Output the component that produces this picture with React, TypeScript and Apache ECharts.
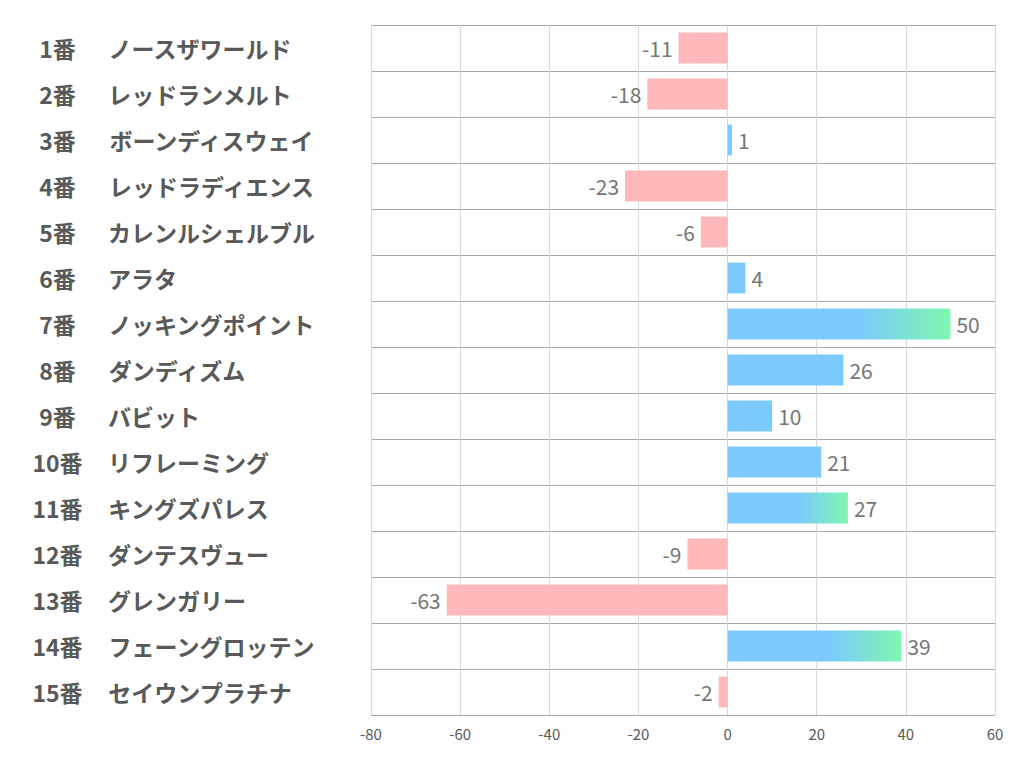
import React, { useEffect, useRef } from "react";
import * as echarts from "echarts";

const numbers = ["1番", "2番", "3番", "4番", "5番", "6番", "7番", "8番", "9番", "10番", "11番", "12番", "13番", "14番", "15番"];
const horses = [
  "ノースザワールド",
  "レッドランメルト",
  "ボーンディスウェイ",
  "レッドラディエンス",
  "カレンルシェルブル",
  "アラタ",
  "ノッキングポイント",
  "ダンディズム",
  "バビット",
  "リフレーミング",
  "キングズパレス",
  "ダンテスヴュー",
  "グレンガリー",
  "フェーングロッテン",
  "セイウンプラチナ",
];
const values = [-11, -18, 1, -23, -6, 4, 50, 26, 10, 21, 27, -9, -63, 39, -2];
const highlighted = [7, 11, 14];
const xTicks = { min: -80, max: 60, interval: 20 };

const BLUE = "#7cc9fd";
const GREEN = "#7ef7b0";
const PINK = "#ffb8ba";

export default function App() {
  const ref = useRef<HTMLDivElement>(null);
  useEffect(() => {
    if (!ref.current) return;
    const chart = echarts.init(ref.current, null, { renderer: "svg" });
    const cats = numbers.map((n, i) => n + "|" + horses[i]);
    const data = values.map((v, i) => {
      const num = i + 1;
      let color: any = v >= 0 ? BLUE : PINK;
      if (highlighted.includes(num)) {
        color = new echarts.graphic.LinearGradient(0, 0, 1, 0, [
          { offset: 0, color: BLUE },
          { offset: 0.58, color: BLUE },
          { offset: 1, color: GREEN },
        ]);
      }
      return {
        value: v,
        itemStyle: { color },
        label: { position: v >= 0 ? "right" : "left" },
      };
    });
    chart.setOption({
      animation: false,
      grid: { left: 371, right: 27, top: 25, bottom: 67, containLabel: false },
      xAxis: {
        type: "value",
        min: xTicks.min,
        max: xTicks.max,
        interval: xTicks.interval,
        axisLine: { show: false },
        axisTick: { show: false },
        splitLine: { show: true, lineStyle: { color: "#d9d9d9", width: 1 } },
        axisLabel: {
          color: "#595959",
          fontSize: 15,
          fontFamily: "Noto Sans CJK JP",
          margin: 11,
        },
      },
      yAxis: {
        type: "category",
        inverse: true,
        data: cats,
        axisLine: { show: false },
        axisTick: { show: false },
        splitLine: { show: true, lineStyle: { color: "#a6a6a6", width: 1 } },
        axisLabel: {
          align: "left",
          margin: 341,
          formatter: (s: string) => {
            const [n, name] = s.split("|");
            return "{n|" + n + "}{m|" + name + "}";
          },
          rich: {
            n: {
              width: 55,
              align: "right",
              fontSize: 23,
              fontWeight: "bold",
              color: "#595959",
              fontFamily: "Noto Sans CJK JP",
            },
            m: {
              padding: [0, 0, 0, 23],
              fontSize: 23,
              fontWeight: "bold",
              color: "#595959",
              fontFamily: "Noto Sans CJK JP",
            },
          },
        },
      },
      series: [
        {
          type: "bar",
          data,
          barCategoryGap: "33%",
          label: {
            show: true,
            distance: 6,
            fontSize: 21,
            color: "#767676",
            fontFamily: "Noto Sans CJK JP",
          },
        },
      ],
    });
    return () => chart.dispose();
  }, []);
  return (
    <div
      ref={ref}
      style={{ position: "fixed", left: 0, top: 0, width: 1022, height: 782, background: "#fff" }}
    />
  );
}
